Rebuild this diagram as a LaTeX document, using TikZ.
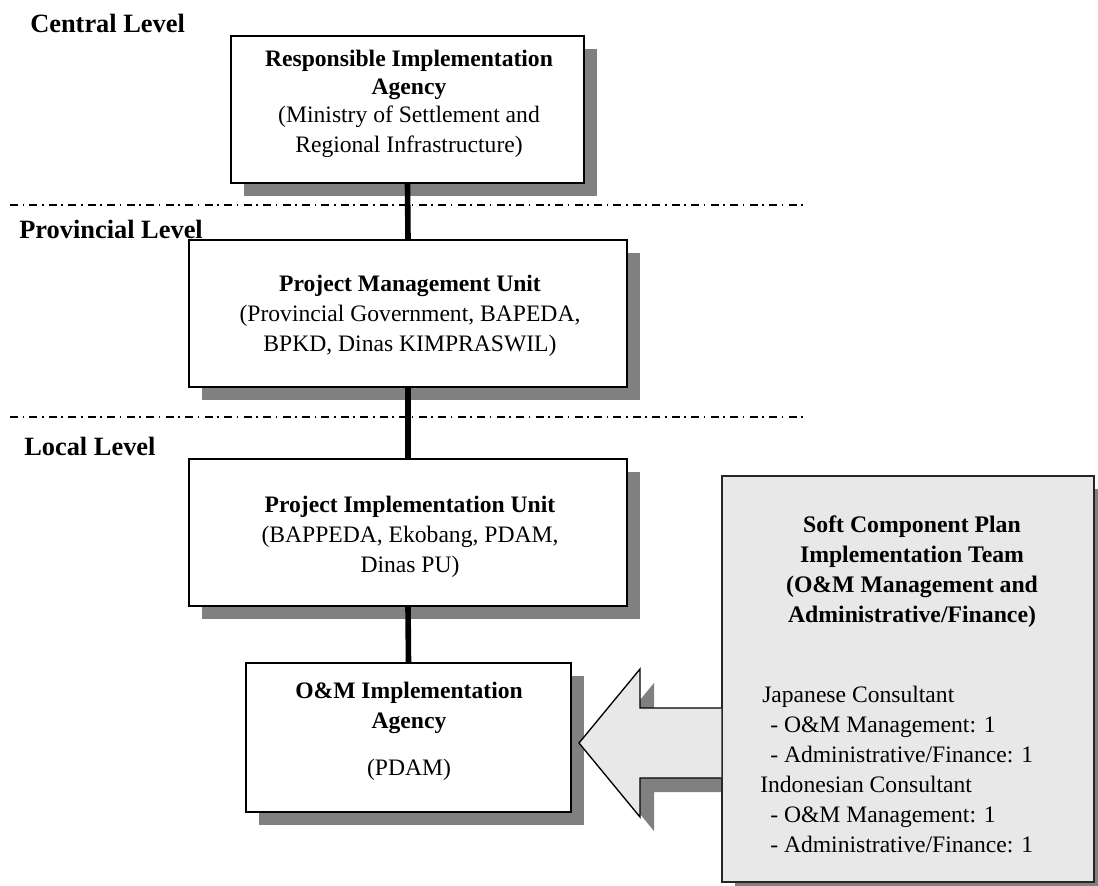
\documentclass[tikz,border=0pt]{standalone}
\usepackage{fontspec}
\setmainfont{Liberation Serif}
\usetikzlibrary{shadows,calc}
\definecolor{shgray}{RGB}{128,128,128}
\definecolor{softfill}{RGB}{232,232,232}
\tikzset{
  orgbox/.style={draw=black, line width=1.3pt, fill=white, inner sep=0pt,
    general shadow={fill=shgray, shadow xshift=10.1pt, shadow yshift=-10.1pt}},
  softbox/.style={draw=black!85, line width=1pt, fill=softfill, inner sep=0pt,
    general shadow={fill=shgray, shadow xshift=10.1pt, shadow yshift=-10.1pt}},
  levellabel/.style={anchor=base west, inner sep=0pt, font=\fontsize{19.8}{23}\selectfont\bfseries},
  boxtext/.style={anchor=base, inner sep=0pt, align=center, font=\fontsize{17.7}{22.5}\selectfont},
  listtext/.style={anchor=base west, inner sep=0pt, align=left, font=\fontsize{17.7}{22.5}\selectfont},
  link/.style={line width=4.2pt, black},
  levelline/.style={line width=1.5pt, dash pattern=on 6pt off 3.4pt on 1.2pt off 4pt},
  bigarrow/.style={draw=black, line width=1pt, fill=softfill, line join=miter},
  bigarrowshadow/.style={fill=shgray},
}
\begin{document}
\begin{tikzpicture}[x=0.75pt,y=-0.75pt]
\useasboundingbox (0,0) rectangle (1098,885);

% level separators
\coordinate (l1a) at (10,204.5);
\coordinate (l1b) at (807,204.5);
\coordinate (l2a) at (10,417);
\coordinate (l2b) at (807,417);
\draw[levelline] (l1a) -- (l1b);
\draw[levelline] (l2a) -- (l2b);

% level labels
\node[levellabel] (central) at (30,32) {Central Level};
\node[levellabel] (provincial) at (19,238) {Provincial Level};
\node[levellabel] (local) at (24,455) {Local Level};

% boxes
\node[orgbox, minimum width=264.75pt, minimum height=110.25pt] (ria) at (407.5,109.5) {};
\node[orgbox, minimum width=328.5pt, minimum height=110.25pt] (pmu) at (408,313.5) {};
\node[orgbox, minimum width=328.5pt, minimum height=110.25pt] (piu) at (408,532.5) {};
\node[orgbox, minimum width=243.75pt, minimum height=111.75pt] (om) at (408.5,737.5) {};

% box texts (anchor = baseline of the last line)
\node[boxtext, font=\fontsize{17.7}{21}\selectfont] (riat) at (409,152.5)
  {\textbf{Responsible Implementation}\\\textbf{Agency}\\[0pt](Ministry of Settlement and\\[1.5pt]Regional Infrastructure)};
\node[boxtext] (pmut) at (410,351)
  {\textbf{Project Management Unit}\\(Provincial Government, BAPEDA,\\BPKD, Dinas KIMPRASWIL)};
\node[boxtext] (piut) at (410,572)
  {\textbf{Project Implementation Unit}\\(BAPPEDA, Ekobang, PDAM,\\Dinas PU)};
\node[boxtext] (omt) at (409,775)
  {\textbf{O\&M Implementation}\\\textbf{Agency}\\[12.75pt](PDAM)};

% vertical links
\draw[link] (ria.south) -- (pmu.north);
\draw[link] (pmu.south) -- (piu.north);
\draw[link] (piu.south) -- (om.north);

% big arrow from soft component team to O&M agency
\coordinate (tip) at (579,743);
\begin{scope}[shift={(14,14)}]
  \fill[bigarrowshadow] (579,743) -- (640,669) -- (640,708) -- (724,708) -- (724,778) -- (640,778) -- (640,817) -- cycle;
\end{scope}
\node[softbox, minimum width=279pt, minimum height=304.5pt] (soft) at (908,679) {};
\draw[bigarrow] (soft.west |- 0,708) -- (640,708) -- (640,669) -- (tip) -- (640,817) -- (640,778) -- (soft.west |- 0,778);

% soft component texts
\node[boxtext, font=\fontsize{17.8}{22.5}\selectfont\bfseries] (softt) at (912,622)
  {Soft Component Plan\\Implementation Team\\(O\&M Management and\\Administrative/Finance)};
\node[listtext] (softl) at (760,852)
  {\hspace*{1.5pt}Japanese Consultant\\
   \hspace*{7.5pt}- O\&M Management: 1\\
   \hspace*{7.5pt}- Administrative/Finance: 1\\
   Indonesian Consultant\\
   \hspace*{7.5pt}- O\&M Management: 1\\
   \hspace*{7.5pt}- Administrative/Finance: 1};
\end{tikzpicture}
\end{document}
